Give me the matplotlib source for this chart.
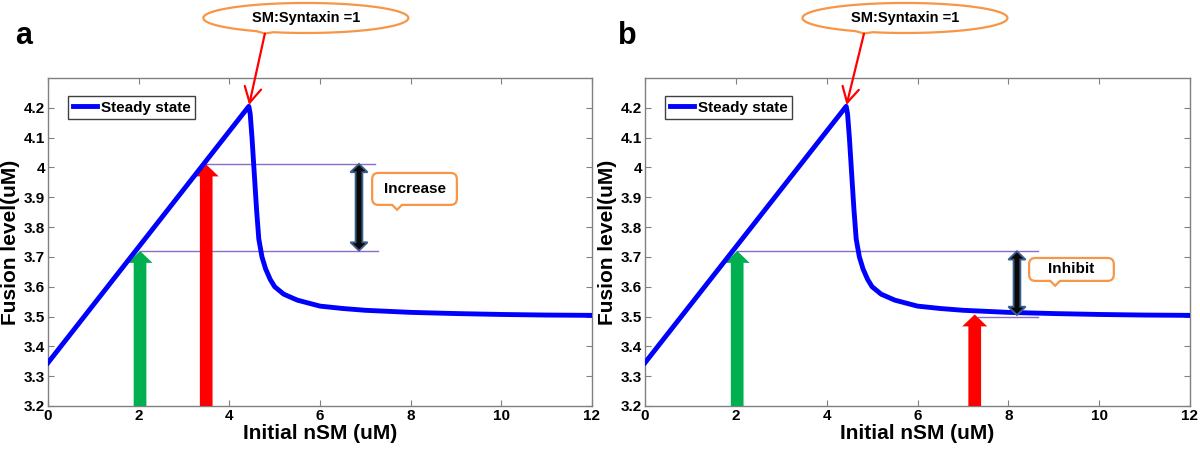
import numpy as np
import matplotlib
matplotlib.use("Agg")
import matplotlib.pyplot as plt
import matplotlib.patches as mpatches
import matplotlib.transforms as mtransforms
from matplotlib.path import Path

# steady state curve
nsm = [0, 4.43, 4.46, 4.50, 4.55, 4.60, 4.65, 4.72, 4.80, 4.90, 5.0, 5.2, 5.5,
       6.0, 6.5, 7.0, 8.0, 9.0, 10.0, 11.0, 12.0]
fusion = [3.345, 4.205, 4.18, 4.10, 3.98, 3.86, 3.76, 3.70, 3.66, 3.625, 3.60,
          3.575, 3.555, 3.535, 3.527, 3.521, 3.514, 3.510, 3.507, 3.505, 3.504]

xticks = [0, 2, 4, 6, 8, 10, 12]
yticks = [3.2, 3.3, 3.4, 3.5, 3.6, 3.7, 3.8, 3.9, 4.0, 4.1, 4.2]
ytick_labels = ["3.2", "3.3", "3.4", "3.5", "3.6", "3.7", "3.8", "3.9", "4", "4.1", "4.2"]

panel_letters = ["a", "b"]
green_x = [2.03, 2.03]
green_tip = [3.72, 3.72]
red_x = [3.49, 7.26]
red_tip = [4.01, 3.507]
# horizontal guide lines: (y, x start, x end)
guides = [[(4.012, 3.45, 7.22), (3.721, 2.03, 7.28)],
          [(3.719, 2.03, 8.65), (3.500, 7.34, 8.65)]]
# double arrow: x, y low, y high
span_x = [6.86, 8.19]
span_lo = [3.721, 3.505]
span_hi = [4.012, 3.719]
callout_text = ["Increase", "Inhibit"]
callout_x = [8.085, 9.39]
callout_y = [3.928, 3.658]
callout_tail_x = [7.70, 9.03]
peak_text = "SM:Syntaxin =1"

plt.rcParams["font.family"] = ["Liberation Sans", "DejaVu Sans"]
plt.rcParams["font.weight"] = "bold"

BLUE = "#0000ff"
GREEN = "#00b050"
RED = "#ff0000"
ORANGE = "#f79646"
PURPLE = "#8a6cc8"
GRAY = "#808080"

fig = plt.figure(figsize=(12, 4.55), dpi=100)
H = 455.0
ax_pos = [[48 / 1200, 1 - 406 / H, 544 / 1200, 328 / H],
          [645 / 1200, 1 - 406 / H, 545 / 1200, 328 / H]]


def box_callout(w, h, r, tx, tw, td):
    # rounded rectangle with a small tail at the bottom, in points
    L, R, B, T = -w / 2, w / 2, -h / 2, h / 2
    verts = [(L + r, B), (tx - tw / 2, B), (tx, B - td), (tx + tw / 2, B),
             (R - r, B), (R, B), (R, B + r), (R, T - r), (R, T), (R - r, T),
             (L + r, T), (L, T), (L, T - r), (L, B + r), (L, B), (L + r, B),
             (L + r, B)]
    codes = [Path.MOVETO, Path.LINETO, Path.LINETO, Path.LINETO,
             Path.LINETO, Path.CURVE3, Path.CURVE3, Path.LINETO, Path.CURVE3, Path.CURVE3,
             Path.LINETO, Path.CURVE3, Path.CURVE3, Path.LINETO, Path.CURVE3, Path.CURVE3,
             Path.CLOSEPOLY]
    return Path(verts, codes)


def ellipse_callout(a, b, tx, tw, tip_y):
    pts = []
    tail_done = False
    for t in np.linspace(0, 2 * np.pi, 240):
        x, y = a * np.cos(t), b * np.sin(t)
        if y < 0 and abs(x - tx) < tw / 2:
            if not tail_done:
                pts.append((tx, tip_y))
                tail_done = True
            continue
        pts.append((x, y))
    return Path(pts, closed=False)


pt2in = mtransforms.Affine2D().scale(1 / 72.0)

for i in range(2):
    ax = fig.add_axes(ax_pos[i])
    line, = ax.plot(nsm, fusion, color=BLUE, lw=3.5, label="Steady state", zorder=4)
    ax.set_xlim(0, 12)
    ax.set_ylim(3.2, 4.3)
    ax.set_xticks(xticks)
    ax.set_yticks(yticks)
    ax.set_yticklabels(ytick_labels)
    ax.tick_params(direction="in", top=True, right=True, length=4, width=0.8,
                   color=GRAY, labelsize=11, pad=2)
    for lab in ax.get_xticklabels() + ax.get_yticklabels():
        lab.set_fontweight("bold")
    for s in ax.spines.values():
        s.set_color(GRAY)
        s.set_linewidth(1.0)
    ax.set_xlabel("Initial nSM (uM)", fontsize=15, fontweight="bold", labelpad=1)
    ax.set_ylabel("Fusion level(uM)", fontsize=15, fontweight="bold", labelpad=3)

    leg = ax.legend(loc="upper left", bbox_to_anchor=(0.037, 0.945), borderaxespad=0,
                    fancybox=False, edgecolor="#404040", framealpha=1,
                    prop={"weight": "bold", "size": 11}, handlelength=1.6,
                    handletextpad=0.25, borderpad=0.3)
    leg.get_frame().set_linewidth(1.0)

    # guide lines
    for (gy, gx0, gx1) in guides[i]:
        ax.plot([gx0, gx1], [gy, gy], color=PURPLE, lw=1.0, zorder=2)

    # block arrows from the bottom axis
    for ax_x, tip, col in [(green_x[i], green_tip[i], GREEN), (red_x[i], red_tip[i], RED)]:
        ax.add_patch(mpatches.FancyArrow(ax_x, 3.2, 0, tip - 3.2, width=0.28,
                                         head_width=0.55, head_length=0.04,
                                         length_includes_head=True, color=col,
                                         lw=0, zorder=3))

    # double arrow
    x0, y1, y2 = span_x[i], span_lo[i], span_hi[i]
    w, hw, hl = 0.075, 0.19, 0.028
    poly = [(x0, y1), (x0 + hw, y1 + hl), (x0 + w, y1 + hl), (x0 + w, y2 - hl),
            (x0 + hw, y2 - hl), (x0, y2), (x0 - hw, y2 - hl), (x0 - w, y2 - hl),
            (x0 - w, y1 + hl), (x0 - hw, y1 + hl)]
    ax.add_patch(mpatches.Polygon(poly, closed=True, fc="#0a0a0a", ec="#3d5f8c",
                                  lw=1.3, zorder=5))

    # rounded callout box
    bw, bh = (61, 23) if i == 0 else (61, 16.5)
    ctr = (callout_x[i], callout_y[i])
    tail_off = (callout_tail_x[i] - callout_x[i]) * 544 / 12 * 0.72
    trans = pt2in + fig.dpi_scale_trans + mtransforms.ScaledTranslation(ctr[0], ctr[1], ax.transData)
    ax.add_patch(mpatches.PathPatch(box_callout(bw, bh, 4.5, tail_off, 7, 3.5),
                                    transform=trans, fc="white", ec=ORANGE, lw=1.6,
                                    zorder=6))
    ax.text(ctr[0], ctr[1], callout_text[i], ha="center", va="center",
            fontsize=11, fontweight="bold", zorder=7)

    # ellipse callout above the peak
    e_ctr = (0.474 if i == 0 else 0.477, 1.183)
    etrans = pt2in + fig.dpi_scale_trans + mtransforms.ScaledTranslation(e_ctr[0], e_ctr[1], ax.transAxes)
    a_pt, b_pt, tx_pt, tip_pt = 73.8, 10.8, -29.5, -11.2
    ell = mpatches.PathPatch(ellipse_callout(a_pt, b_pt, tx_pt, 10, tip_pt),
                             transform=etrans, fc="white", ec=ORANGE, lw=1.6,
                             clip_on=False, zorder=6)
    ax.add_patch(ell)
    ax.text(e_ctr[0], e_ctr[1], peak_text, transform=ax.transAxes, ha="center",
            va="center", fontsize=10.5, fontweight="bold", clip_on=False, zorder=7)

    k = int(np.argmax(fusion))
    tip_disp = etrans.transform((tx_pt, tip_pt))
    ax.annotate("", xy=(nsm[k], fusion[k]), xycoords="data",
                xytext=tip_disp, textcoords="figure pixels",
                arrowprops=dict(arrowstyle="->,head_length=0.55,head_width=0.3",
                                color=RED, lw=1.6, shrinkA=0, shrinkB=1,
                                mutation_scale=20),
                annotation_clip=False, zorder=8)

    fig.text((24 if i == 0 else 627) / 1200, 1 - 36 / H, panel_letters[i],
             fontsize=22, fontweight="bold", ha="center", va="center")

fig.savefig("out.png", dpi=100)
